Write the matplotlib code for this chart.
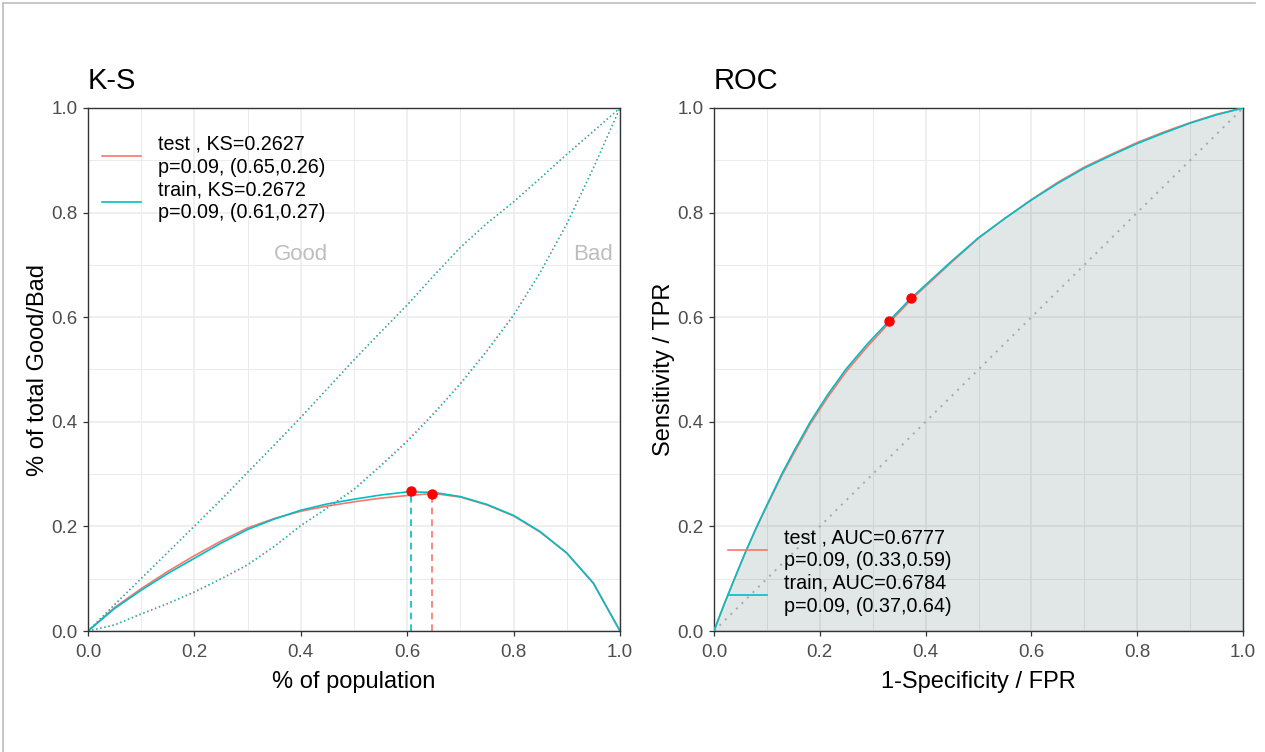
import numpy as np
import matplotlib
matplotlib.use("Agg")
import matplotlib.pyplot as plt
from matplotlib.lines import Line2D
from matplotlib.ticker import MultipleLocator

plt.rcParams['font.family'] = ['Liberation Sans', 'DejaVu Sans']

# ---- data ----
groups = ["test", "train"]
colors = ["#F8766D", "#00BFC4"]

# K-S panel: cumulative share vs population
population = [0, .05, .10, .15, .20, .25, .30, .35, .40, .45, .50,
              .55, .60, .65, .70, .75, .80, .85, .90, .95, 1.0]
good_test = [0, .051, .101, .151, .201, .252, .304, .356, .409, .464, .519,
             .572, .624, .680, .733, .779, .820, .865, .911, .955, 1.0]
good_train = [0, .050, .100, .150, .200, .250, .303, .355, .408, .463, .518,
              .571, .623, .679, .734, .780, .821, .866, .912, .956, 1.0]
bad_test = [0, .011, .032, .052, .074, .099, .126, .161, .201, .236, .272,
            .317, .364, .417, .474, .537, .605, .686, .779, .886, 1.0]
bad_train = [0, .012, .033, .053, .075, .100, .127, .162, .202, .235, .270,
             .315, .362, .415, .472, .535, .603, .685, .778, .885, 1.0]
ks_test = [0, .045, .081, .114, .144, .172, .197, .215, .229, .239, .247,
           .254, .259, .263, .256, .241, .220, .189, .149, .092, 0]
ks_train = [0, .043, .078, .110, .139, .168, .194, .214, .231, .243, .252,
            .260, .266, .265, .257, .242, .221, .190, .149, .091, 0]
ks_value = [0.2627, 0.2672]
ks_x = [0.647, 0.607]
ks_label_pt = ["(0.65,0.26)", "(0.61,0.27)"]
p_value = ["0.09", "0.09"]

# ROC panel
fpr = [0, .01, .02, .04, .06, .081, .10, .128, .15, .182, .215, .249, .29, .331,
       .372, .45, .50, .55, .60, .65, .70, .75, .80, .85, .90, .95, 1.0]
tpr_test = [0, .027, .053, .103, .152, .199, .239, .297, .338, .396, .447, .495, .544, .589,
            .633, .706, .751, .789, .825, .858, .887, .911, .934, .954, .972, .988, 1.0]
tpr_train = [0, .027, .053, .103, .152, .200, .241, .300, .342, .400, .452, .500, .549, .593,
             .636, .708, .752, .789, .824, .856, .885, .909, .932, .952, .971, .987, 1.0]
auc_value = [0.6777, 0.6784]
roc_pt_x = [0.331, 0.372]
roc_pt_y = [0.593, 0.636]
roc_label_pt = ["(0.33,0.59)", "(0.37,0.64)"]

# ---- figure ----
fig = plt.figure(figsize=(12.65, 7.52), dpi=100)
ax1 = fig.add_axes([88/1265, 1-631/752, 532/1265, 523/752])
ax2 = fig.add_axes([714/1265, 1-631/752, 529/1265, 523/752])

def style_axes(ax, title, xlabel, ylabel):
    ax.set_xlim(0, 1)
    ax.set_ylim(0, 1)
    ax.xaxis.set_major_locator(MultipleLocator(0.2))
    ax.yaxis.set_major_locator(MultipleLocator(0.2))
    ax.xaxis.set_minor_locator(MultipleLocator(0.1))
    ax.yaxis.set_minor_locator(MultipleLocator(0.1))
    ax.xaxis.set_major_formatter(lambda v, p: f"{v:.1f}")
    ax.yaxis.set_major_formatter(lambda v, p: f"{v:.1f}")
    ax.set_axisbelow(True)
    ax.grid(which='major', color='#EBEBEB', lw=1.1)
    ax.grid(which='minor', color='#EBEBEB', lw=0.7)
    ax.tick_params(which='major', length=3.5, width=0.9, color='#333333',
                   labelsize=13.5, labelcolor='#4D4D4D')
    ax.tick_params(axis='x', which='major', pad=6)
    ax.tick_params(axis='y', which='major', pad=4)
    ax.tick_params(which='minor', length=0)
    for s in ax.spines.values():
        s.set_color('#333333')
        s.set_linewidth(1.0)
    ax.set_title(title, loc='left', fontsize=21, pad=14)
    ax.set_xlabel(xlabel, fontsize=17, labelpad=7)
    ax.set_ylabel(ylabel, fontsize=17, labelpad=2)

def add_legend(ax, handles, labels, loc, anchor):
    for t in labels:
        pass
    leg = ax.legend(handles, labels, loc=loc, bbox_to_anchor=anchor, frameon=False,
                    fontsize=14.2, handlelength=2.0, handletextpad=0.85, labelspacing=0.2,
                    borderaxespad=0.3)
    for t in leg.get_texts():
        t.set_linespacing(1.25)
    return leg

# K-S
goods = [good_test, good_train]
bads = [bad_test, bad_train]
kss = [ks_test, ks_train]
handles = []
for i, g in enumerate(groups):
    ax1.plot(population, goods[i], color=colors[i], lw=1.0, ls=(0, (1, 2)))
    ax1.plot(population, bads[i], color=colors[i], lw=1.0, ls=(0, (1, 2)))
    ln, = ax1.plot(population, kss[i], color=colors[i], lw=1.2)
    ax1.plot([ks_x[i], ks_x[i]], [0, ks_value[i]], color=colors[i], lw=1.2, ls=(0, (4, 3)))
    handles.append(ln)
for i in range(2):
    ax1.plot(ks_x[i], ks_value[i], 'o', color='red', ms=6.5, zorder=5)
ax1.text(0.4, 0.72, "Good", color='#BEBEBE', fontsize=16, ha='center', va='center')
ax1.text(0.95, 0.72, "Bad", color='#BEBEBE', fontsize=16, ha='center', va='center')
labels = [f"test , KS={ks_value[0]:.4f}\np={p_value[0]}, {ks_label_pt[0]}",
          f"train, KS={ks_value[1]:.4f}\np={p_value[1]}, {ks_label_pt[1]}"]
add_legend(ax1, handles, labels, 'upper left', (0.0, 0.975))
style_axes(ax1, "K-S", "% of population", "% of total Good/Bad")

# ROC
tprs = [tpr_test, tpr_train]
ax2.fill_between(fpr, 0, tpr_train, color='#2F4F4F', alpha=0.14, lw=0, zorder=1)
ax2.plot([0, 1], [0, 1], color='#A8A8A8', lw=1.4, ls=(0, (1, 3)), zorder=2)
handles = []
for i, g in enumerate(groups):
    ln, = ax2.plot(fpr, tprs[i], color=colors[i], lw=1.2, zorder=3)
    handles.append(ln)
for i in range(2):
    ax2.plot(roc_pt_x[i], roc_pt_y[i], 'o', color='red', ms=6.5, zorder=5)
labels = [f"test , AUC={auc_value[0]:.4f}\np={p_value[0]}, {roc_label_pt[0]}",
          f"train, AUC={auc_value[1]:.4f}\np={p_value[1]}, {roc_label_pt[1]}"]
add_legend(ax2, handles, labels, 'lower left', (0.0, 0.003))
style_axes(ax2, "ROC", "1-Specificity / FPR", "Sensitivity / TPR")

# window frame of the original screenshot
fig.add_artist(Line2D([3/1265, 1255/1265], [1-3/752, 1-3/752], color='#BDBDBD', lw=1.2))
fig.add_artist(Line2D([3/1265, 3/1265], [0, 1-3/752], color='#BDBDBD', lw=1.2))

fig.savefig("out.png", dpi=100)
